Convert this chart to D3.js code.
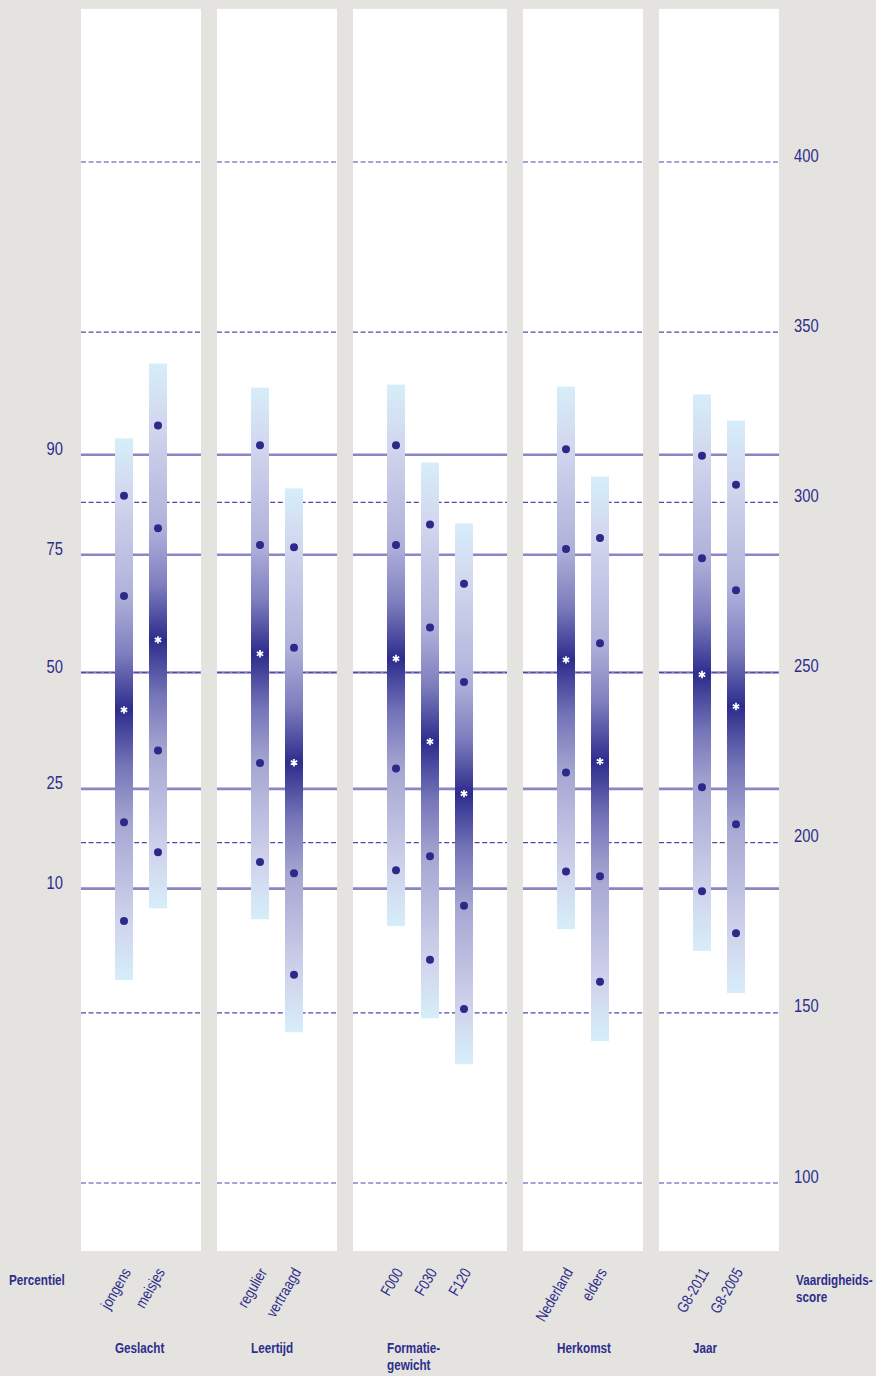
<!DOCTYPE html>
<html>
<head>
<meta charset="utf-8">
<script src="https://cdn.jsdelivr.net/npm/d3@7"></script>
<style>
  html, body { margin: 0; padding: 0; background: #e4e3df; }
  svg { display: block; }
  text { font-family: "Liberation Sans", Arial, sans-serif; }
</style>
</head>
<body>
<svg id="chart" width="876" height="1376"></svg>
<script>
// ---------- DATA ----------
const groups = ["Geslacht", "Leertijd", "Formatie-\ngewicht", "Herkomst", "Jaar"];
const categories = ["jongens", "meisjes", "regulier", "vertraagd", "F000", "F030", "F120", "Nederland", "elders", "G8-2011", "G8-2005"];
const groupOf = [0, 0, 1, 1, 2, 2, 2, 3, 3, 4, 4];

// score scale values per category
const barTop    = [318.8, 340.8, 333.7, 304.1, 334.6, 311.7, 293.8, 334.0, 307.6, 331.7, 324.0];
const p90       = [301.9, 322.6, 316.8, 286.8, 316.8, 293.5, 276.1, 315.6, 289.5, 313.7, 305.2];
const p75       = [272.5, 292.4, 287.5, 257.3, 287.5, 263.2, 247.2, 286.3, 258.6, 283.6, 274.2];
const p50       = [239.0, 259.6, 255.5, 223.5, 254.1, 229.7, 214.4, 253.7, 223.9, 249.4, 240.0];
const p25       = [206.0, 227.1, 223.4, 191.0, 221.8, 196.0, 181.5, 220.6, 190.1, 216.3, 205.4];
const p10       = [177.0, 197.2, 194.3, 161.2, 191.9, 165.6, 151.1, 191.5, 159.1, 185.7, 173.4];
const barBottom = [159.6, 180.7, 177.5, 144.3, 175.5, 148.4, 134.9, 174.6, 141.7, 168.2, 155.8];

const scoreTicks = [100, 150, 200, 250, 300, 350, 400];
const percentileLabels = ["90", "75", "50", "25", "10"];
const percentileScores = [314.0, 284.6, 250.0, 215.8, 186.5];

const leftTitle = "Percentiel";
const rightTitle = ["Vaardigheids-", "score"];

// ---------- LAYOUT ----------
const textColor = "#2e2d8c";
const svg = d3.select("#chart");

// layout units: each panel = pad + n*slot + pad, panels separated by gap
const pad = 26, slot = 34, gap = 16;
const groupCounts = groups.map((g, i) => groupOf.filter(v => v === i).length);
let cursor = 0;
const panelUnits = groupCounts.map((n, i) => {
  const start = cursor;
  const end = start + pad * 2 + n * slot;
  cursor = end + gap;
  return { start, end };
});
const totalUnits = panelUnits[panelUnits.length - 1].end;
const x = d3.scaleLinear().domain([0, totalUnits]).range([81, 779]);

const catUnit = categories.map((c, i) => {
  const g = groupOf[i];
  const idx = groupOf.slice(0, i).filter(v => v === g).length;
  return panelUnits[g].start + pad + slot * idx + slot / 2;
});

const y = d3.scaleLinear().domain([100, 400]).range([1183, 162]);
const panelDomain = [80, 445];

// condensed text helper (horizontal squeeze to mimic a condensed face)
function ctext(sel, tx, ty, opts) {
  const sx = opts.sx || 0.82;
  const rot = opts.rotate ? ` rotate(${opts.rotate})` : "";
  const t = sel.append("text")
    .attr("transform", `translate(${tx},${ty})${rot} scale(${sx},1)`)
    .attr("x", 0).attr("y", 0)
    .attr("text-anchor", opts.anchor || "start")
    .attr("font-size", opts.size)
    .attr("font-weight", opts.weight || "normal")
    .attr("fill", textColor);
  const lines = opts.lines;
  if (lines.length === 1) t.text(lines[0]);
  else lines.forEach((l, li) => t.append("tspan").attr("x", 0).attr("dy", li === 0 ? 0 : opts.lh).text(l));
  return t;
}

// panels
svg.append("g").selectAll("rect").data(panelUnits).join("rect")
  .attr("x", d => x(d.start)).attr("width", d => x(d.end) - x(d.start))
  .attr("y", y(panelDomain[1])).attr("height", y(panelDomain[0]) - y(panelDomain[1]))
  .attr("fill", "#ffffff");

// grid lines per panel
const grid = svg.append("g");
panelUnits.forEach(p => {
  grid.append("g").selectAll("line").data(percentileScores).join("line")
    .attr("x1", x(p.start)).attr("x2", x(p.end))
    .attr("y1", d => y(d)).attr("y2", d => y(d))
    .attr("stroke", "#8b85c3").attr("stroke-width", 2.6);
  grid.append("g").selectAll("line").data(scoreTicks).join("line")
    .attr("x1", x(p.start)).attr("x2", x(p.end))
    .attr("y1", d => y(d)).attr("y2", d => y(d))
    .attr("stroke", "#4c49a8").attr("stroke-width", 1.1)
    .attr("stroke-dasharray", "5,2.6");
});

// gradients
const defs = svg.append("defs");
const bw = 18;
categories.forEach((c, i) => {
  const yt = y(barTop[i]), yb = y(barBottom[i]);
  const off = v => (y(v) - yt) / (yb - yt);
  const g = defs.append("linearGradient").attr("id", "grad" + i)
    .attr("gradientUnits", "userSpaceOnUse")
    .attr("x1", 0).attr("x2", 0).attr("y1", yt).attr("y2", yb);
  const stops = [
    [0, "#d6eef9"],
    [off(p90[i]), "#d2d6ee"],
    [off(p75[i]), "#b0b1da"],
    [(off(p75[i]) + off(p50[i])) / 2, "#7f7fbf"],
    [off(p50[i]), "#2d2c8c"],
    [(off(p25[i]) + off(p50[i])) / 2, "#7575b9"],
    [off(p25[i]), "#a6a6d2"],
    [off(p10[i]), "#d0d3ec"],
    [1, "#d6eef9"]
  ];
  g.selectAll("stop").data(stops).join("stop")
    .attr("offset", d => d[0]).attr("stop-color", d => d[1]);
});

// bars
svg.append("g").selectAll("rect").data(categories).join("rect")
  .attr("x", (d, i) => x(catUnit[i]) - bw / 2).attr("width", bw)
  .attr("y", (d, i) => y(barTop[i]))
  .attr("height", (d, i) => y(barBottom[i]) - y(barTop[i]))
  .attr("fill", (d, i) => `url(#grad${i})`);

// dots
const dotSeries = [p90, p75, p25, p10];
const dots = [];
categories.forEach((c, i) => dotSeries.forEach(s => dots.push({ i, v: s[i] })));
svg.append("g").selectAll("circle").data(dots).join("circle")
  .attr("cx", d => x(catUnit[d.i])).attr("cy", d => y(d.v))
  .attr("r", 4).attr("fill", "#2b2a8b");

// median asterisks
const ast = d3.symbol().type(d3.symbolAsterisk).size(38);
svg.append("g").selectAll("path").data(categories).join("path")
  .attr("transform", (d, i) => `translate(${x(catUnit[i])},${y(p50[i])})`)
  .attr("d", ast).attr("fill", "none").attr("stroke", "#ffffff")
  .attr("stroke-width", 1.7).attr("stroke-linecap", "butt");

// left percentile labels
const gl = svg.append("g");
percentileLabels.forEach((d, i) => {
  ctext(gl, 63, y(percentileScores[i]) + 0.5, { anchor: "end", size: 18, lines: [d] });
});

// right score labels
const gr = svg.append("g");
scoreTicks.forEach(d => {
  ctext(gr, 794, y(d) - 0.5, { anchor: "start", size: 18, lines: [String(d)] });
});

// category labels
const gc = svg.append("g");
categories.forEach((d, i) => {
  ctext(gc, x(catUnit[i]) + 7.5, 1272, { anchor: "end", size: 15.5, rotate: -60, lines: [d] });
});

// group labels
const gg = svg.append("g");
groups.forEach((g, gi) => {
  const firstIdx = groupOf.indexOf(gi);
  ctext(gg, x(catUnit[firstIdx]) - bw / 2, 1353, { size: 15, weight: "bold", sx: 0.78, lh: 17, lines: g.split("\n") });
});

// axis titles
ctext(svg, 9, 1285, { size: 15, weight: "bold", sx: 0.78, lines: [leftTitle] });
ctext(svg, 796, 1285, { size: 15, weight: "bold", sx: 0.78, lh: 17, lines: rightTitle });
</script>
</body>
</html>
